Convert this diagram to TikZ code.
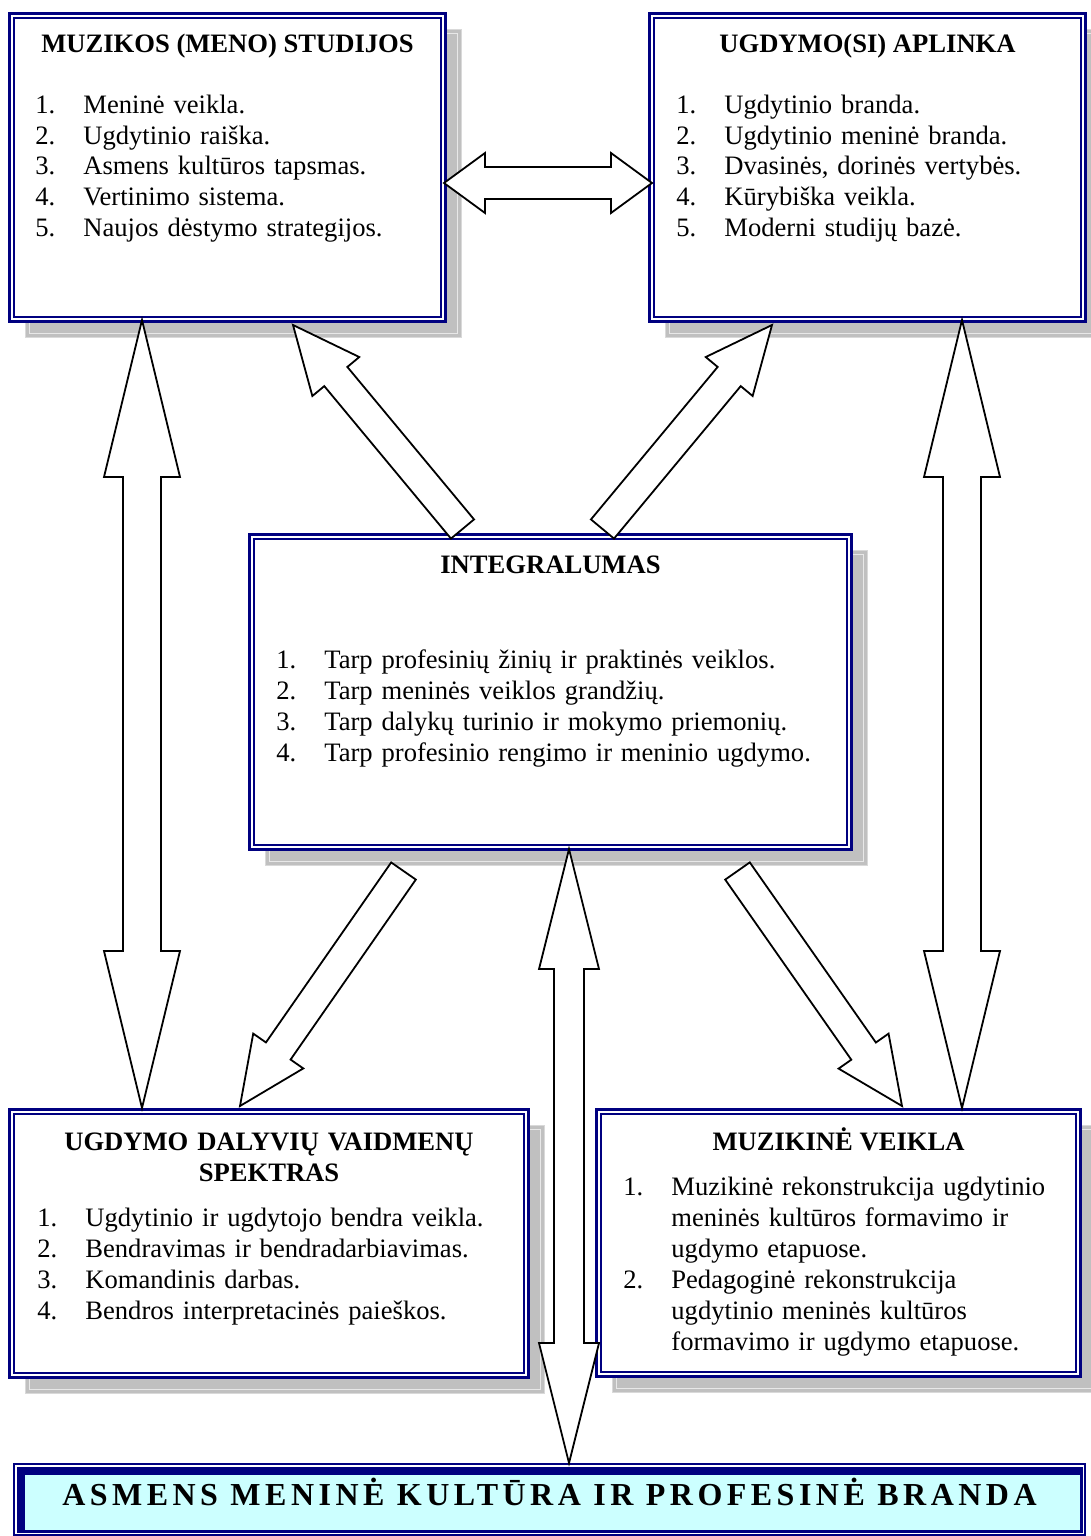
\documentclass[tikz,border=0pt]{standalone}
\usepackage{fontspec}
\setmainfont{Liberation Serif}
\newfontfamily\bannerfont{Liberation Serif}[LetterSpace=14]
\usetikzlibrary{calc,backgrounds}
\definecolor{frameblue}{HTML}{000080}
\definecolor{shadowgray}{HTML}{C0C0C0}
\definecolor{shadowlight}{HTML}{E8E8E8}
\definecolor{bannercyan}{HTML}{CCFFFF}
\newcommand\listline[2]{\hangindent=24pt\hangafter=1\noindent\makebox[24pt][l]{#1}#2\par}
\newcommand\blockarrow[5]{%
  \coordinate (ba-base) at ($(#2)!#5!(#1)$);
  \draw[arrowbody] ($(#1)!#3!90:(#2)$) -- ($(ba-base)!#3!90:(#2)$) -- ($(ba-base)!#4!90:(#2)$) -- (#2)
    -- ($(ba-base)!#4!-90:(#2)$) -- ($(ba-base)!#3!-90:(#2)$) -- ($(#1)!#3!-90:(#2)$) -- cycle;}
\newcommand\twinarrow[5]{%
  \coordinate (ta-a) at ($(#1)!#5!(#2)$);
  \coordinate (ta-b) at ($(#2)!#5!(#1)$);
  \draw[arrowbody] (#1) -- ($(ta-a)!#4!90:(#2)$) -- ($(ta-a)!#3!90:(#2)$) -- ($(ta-b)!#3!90:(#2)$)
    -- ($(ta-b)!#4!90:(#2)$) -- (#2) -- ($(ta-b)!#4!-90:(#2)$) -- ($(ta-b)!#3!-90:(#2)$)
    -- ($(ta-a)!#3!-90:(#2)$) -- ($(ta-a)!#4!-90:(#2)$) -- cycle;}
\begin{document}
\begin{tikzpicture}[x=0.5pt,y=-0.5pt,
    panel/.style={draw=frameblue, line width=1.5pt, fill=white, anchor=north west,
      inner sep=0pt, outer sep=0pt,
      path picture={\draw[frameblue, line width=0.75pt]
        ([shift={(2.35pt,-2.35pt)}]path picture bounding box.north west) rectangle
        ([shift={(-2.35pt,2.35pt)}]path picture bounding box.south east);}},
    banner/.style={draw=frameblue, line width=1pt, fill=white, anchor=north west,
      inner sep=0pt, outer sep=0pt, text height=9.5pt, text depth=3.5pt,
      font=\bannerfont\fontsize{16}{19}\selectfont\bfseries,
      path picture={
        \fill[frameblue] ([shift={(1.5pt,-1.5pt)}]path picture bounding box.north west) rectangle
          ([shift={(-1.2pt,1.2pt)}]path picture bounding box.south east);
        \fill[bannercyan] ([shift={(5.5pt,-5.5pt)}]path picture bounding box.north west) rectangle
          ([shift={(-2.4pt,2.4pt)}]path picture bounding box.south east);}},
    paneltitle/.style={anchor=base, inner sep=0pt, font=\fontsize{13.3}{15.5}\selectfont\bfseries},
    panellist/.style={anchor=base west, inner sep=0pt, text width=240pt, align=left,
      font=\fontsize{13.3}{15.5}\selectfont},
    arrowbody/.style={draw=black, fill=white, line width=0.9pt, line join=miter}]
  \useasboundingbox (0,0) rectangle (1091,1536);

  % panels
  \node[panel, minimum width=218pt, minimum height=154pt] (mz) at (9.5,13.5) {};
  \node[panel, minimum width=218pt, minimum height=154pt] (ua) at (649.5,13.5) {};
  \node[panel, minimum width=301pt, minimum height=157.5pt] (ig) at (249.5,534.5) {};
  \node[panel, minimum width=259.5pt, minimum height=134pt] (ud) at (9.5,1109.5) {};
  \node[panel, minimum width=242pt, minimum height=133.5pt] (mv) at (596.5,1109.5) {};
  \node[banner, minimum width=535.5pt, minimum height=35.5pt] (amk) at (14,1464)
    {ASMENS MENINĖ KULTŪRA IR PROFESINĖ BRANDA};

  \begin{scope}[on background layer]
    \foreach \pnl in {mz,ua,ig,ud,mv} {
      \filldraw[fill=shadowgray, draw=black!15, line width=0.6pt]
        ([shift={(8pt,-8pt)}]\pnl.north west) rectangle ([shift={(8pt,-8pt)}]\pnl.south east);
      \draw[shadowlight, line width=0.6pt]
        ([shift={(10pt,-10pt)}]\pnl.north west) rectangle ([shift={(6pt,-6pt)}]\pnl.south east);
    }
  \end{scope}

  % titles
  \node[paneltitle] (mz-title) at (227.5,53) {MUZIKOS (MENO) STUDIJOS};
  \node[paneltitle] (ua-title) at (867.5,53) {UGDYMO(SI) APLINKA};
  \node[paneltitle] (ig-title) at (550.5,573) {INTEGRALUMAS};
  \node[paneltitle, text width=250pt, align=center] (ud-title) at (269,1150)
    {UGDYMO DALYVIŲ VAIDMENŲ\\SPEKTRAS};
  \node[paneltitle] (mv-title) at (838.5,1150) {MUZIKINĖ VEIKLA};

  % lists
  \node[panellist] (mz-list) at (35,113) {%
    \listline{1.}{Meninė veikla.}
    \listline{2.}{Ugdytinio raiška.}
    \listline{3.}{Asmens kultūros tapsmas.}
    \listline{4.}{Vertinimo sistema.}
    \listline{5.}{Naujos dėstymo strategijos.}};
  \node[panellist] (ua-list) at (676,113) {%
    \listline{1.}{Ugdytinio branda.}
    \listline{2.}{Ugdytinio meninė branda.}
    \listline{3.}{Dvasinės, dorinės vertybės.}
    \listline{4.}{Kūrybiška veikla.}
    \listline{5.}{Moderni studijų bazė.}};
  \node[panellist, text width=290pt] (ig-list) at (276,668) {%
    \listline{1.}{Tarp profesinių žinių ir praktinės veiklos.}
    \listline{2.}{Tarp meninės veiklos grandžių.}
    \listline{3.}{Tarp dalykų turinio ir mokymo priemonių.}
    \listline{4.}{Tarp profesinio rengimo ir meninio ugdymo.}};
  \node[panellist] (ud-list) at (37,1226) {%
    \listline{1.}{Ugdytinio ir ugdytojo bendra veikla.}
    \listline{2.}{Bendravimas ir bendradarbiavimas.}
    \listline{3.}{Komandinis darbas.}
    \listline{4.}{Bendros interpretacinės paieškos.}};
  \node[panellist, text width=230pt] (mv-list) at (623,1195) {%
    \listline{1.}{Muzikinė rekonstrukcija ugdytinio\newline meninės kultūros formavimo ir\newline ugdymo etapuose.}
    \listline{2.}{Pedagoginė rekonstrukcija\newline ugdytinio meninės kultūros\newline formavimo ir ugdymo etapuose.}};

  % arrow ends
  \coordinate (mzR) at (444,183);
  \coordinate (uaL) at (652,183);
  \coordinate (mzB) at (142,320);
  \coordinate (udT) at (142,1108);
  \coordinate (uaB) at (962,320);
  \coordinate (mvT) at (962,1108);
  \coordinate (igB) at (569,849);
  \coordinate (amkT) at (569,1463);
  \coordinate (igTL) at (462.5,529);
  \coordinate (mzBR) at (293,325);
  \coordinate (igTR) at (602.5,529);
  \coordinate (uaBL) at (772,325);
  \coordinate (igBL) at (403.5,871);
  \coordinate (udTR) at (240,1106);
  \coordinate (igBR) at (737.5,871);
  \coordinate (mvTL) at (902,1106);

  % arrows
  \twinarrow{mzR}{uaL}{8pt}{15pt}{20.5pt}
  \twinarrow{mzB}{udT}{9.5pt}{19pt}{78.5pt}
  \twinarrow{uaB}{mvT}{9.5pt}{19pt}{78.5pt}
  \twinarrow{igB}{amkT}{7.5pt}{15pt}{60pt}
  \blockarrow{igTL}{mzBR}{7.5pt}{15.25pt}{33.5pt}
  \blockarrow{igTR}{uaBL}{7.5pt}{15.25pt}{33.5pt}
  \blockarrow{igBL}{udTR}{7.5pt}{15.25pt}{33.5pt}
  \blockarrow{igBR}{mvTL}{7.5pt}{15.25pt}{33.5pt}
\end{tikzpicture}
\end{document}
